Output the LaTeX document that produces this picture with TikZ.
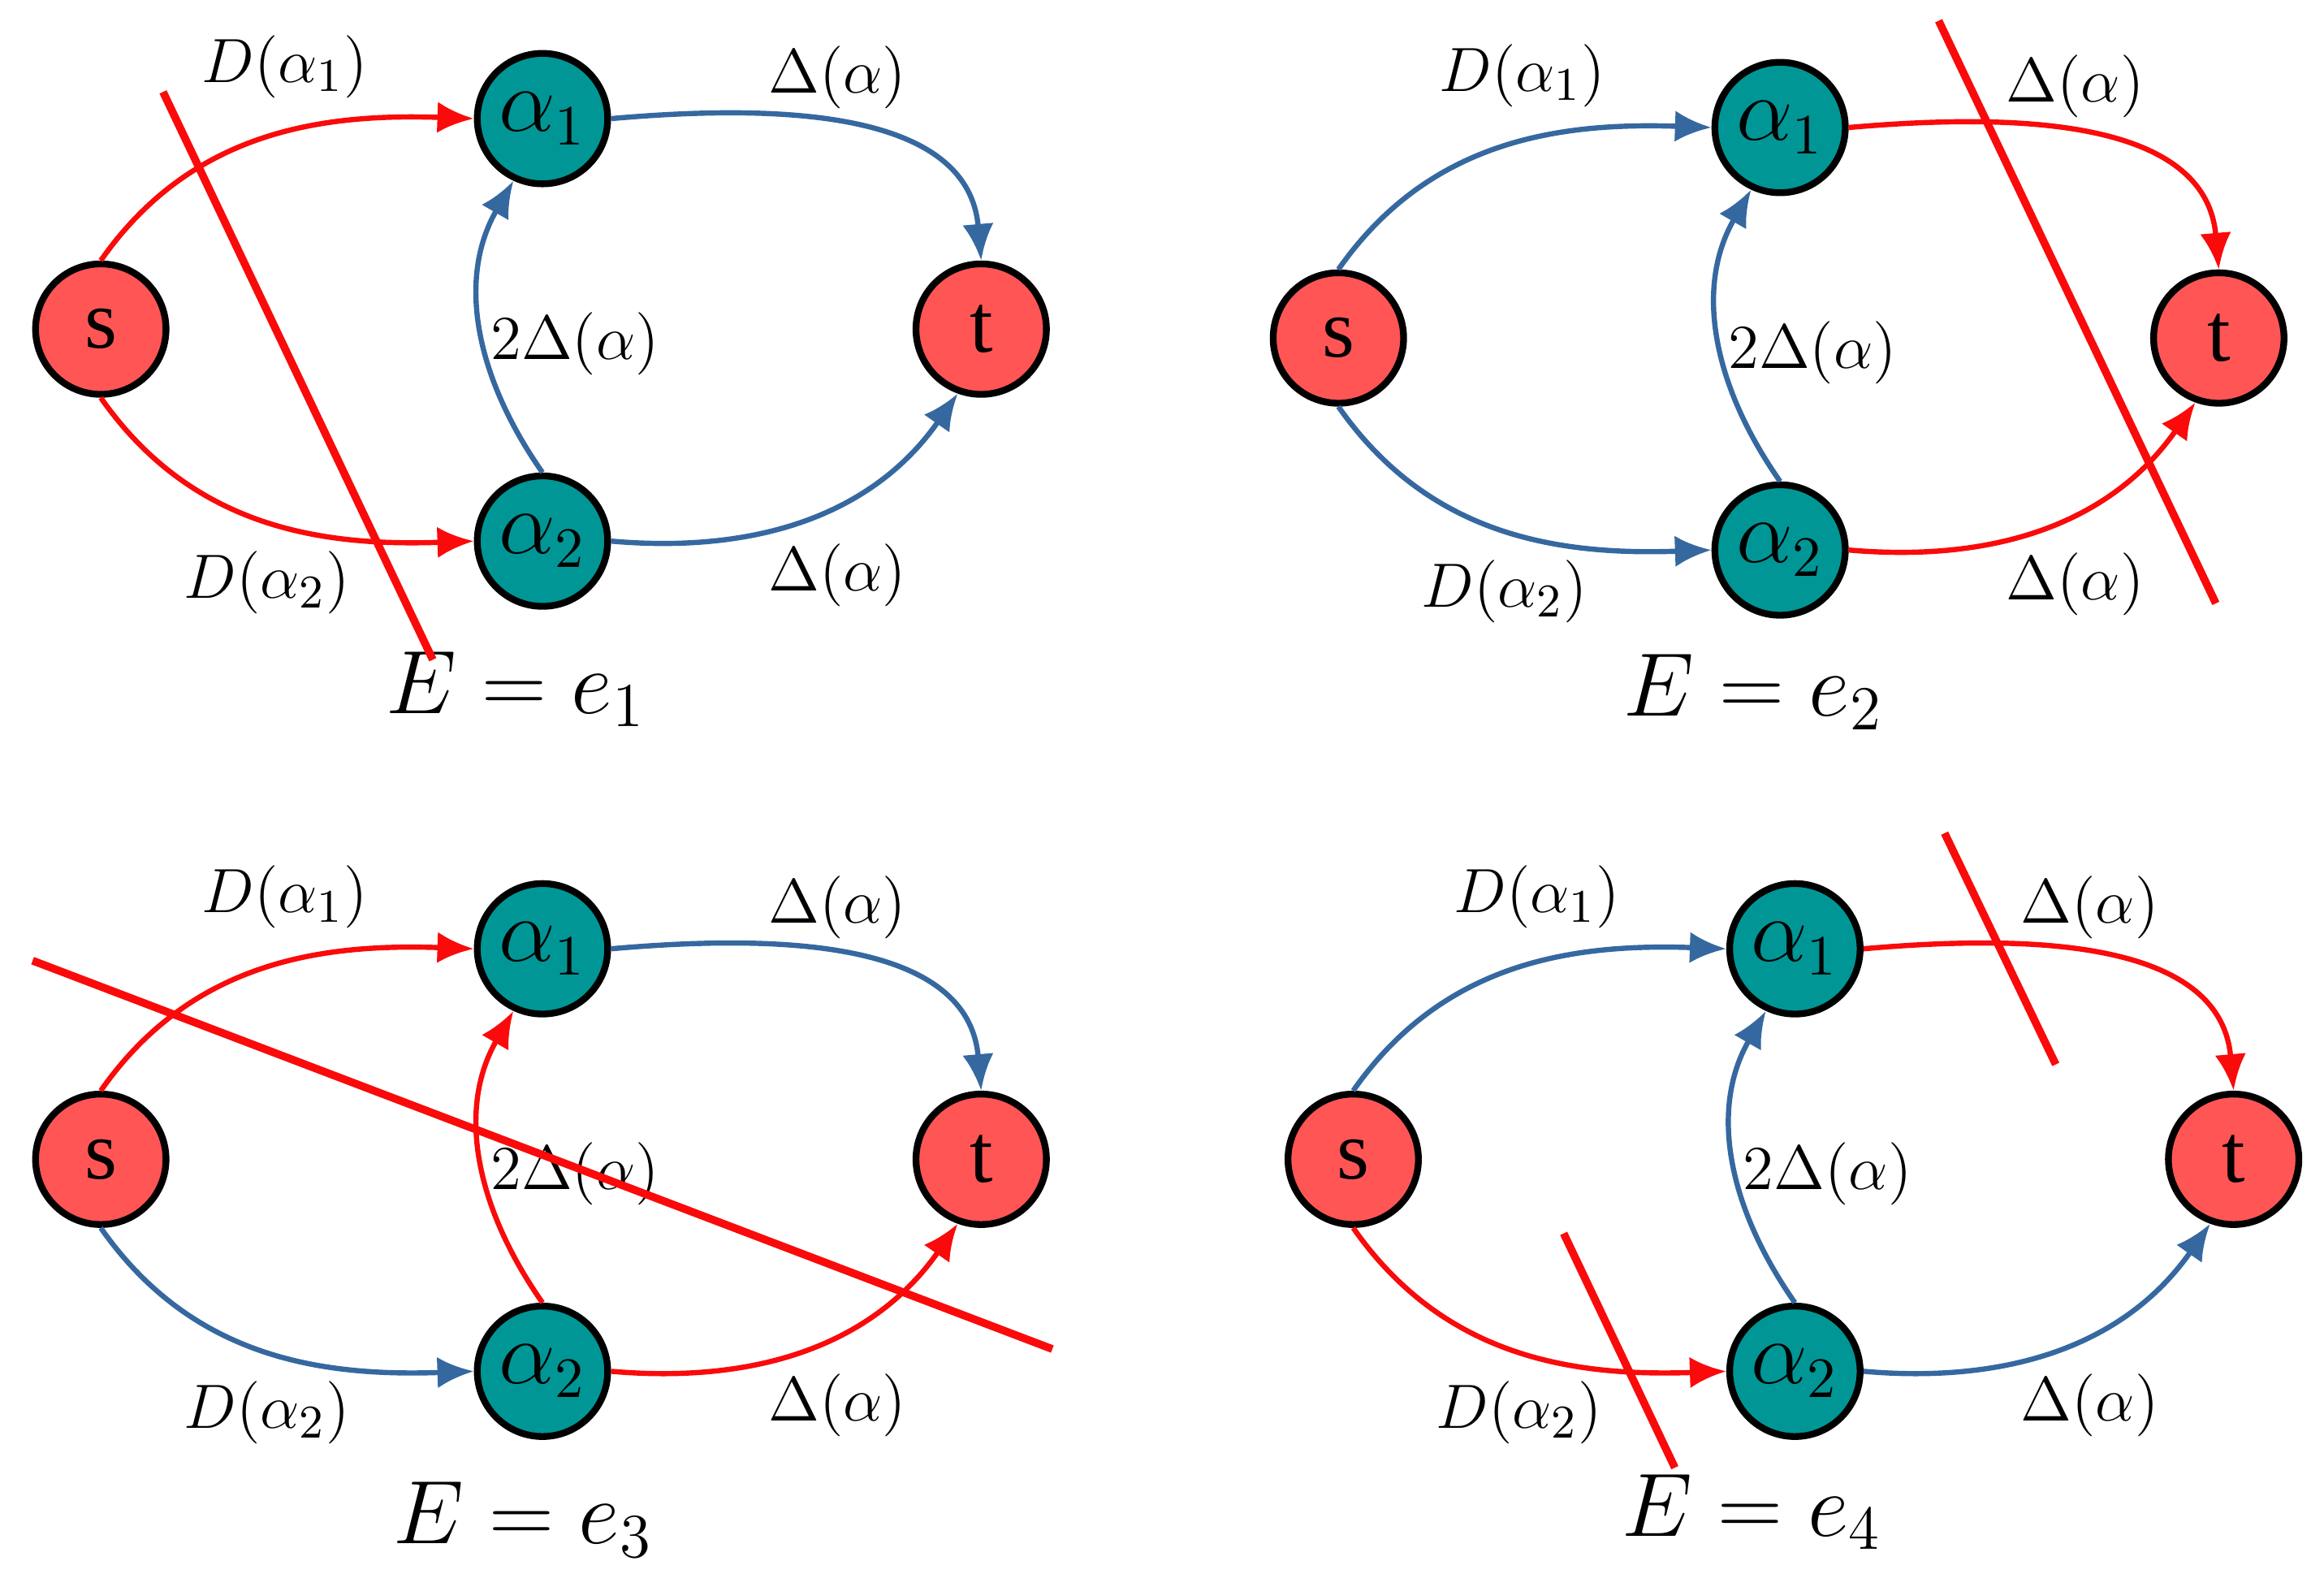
\documentclass[tikz,border=0pt]{standalone}
\usepackage{fontspec}
\setmainfont{Liberation Serif}
\usetikzlibrary{arrows.meta}
\definecolor{nred}{RGB}{255,85,85}
\definecolor{teal2}{RGB}{0,150,150}
\definecolor{eblue}{RGB}{54,104,160}
\definecolor{ered}{RGB}{250,10,10}
\tikzset{
 snode/.style={circle,draw=black,line width=1.3pt,fill=nred,minimum size=0.88cm,inner sep=0pt,font=\fontsize{16}{18}\selectfont},
 anode/.style={circle,draw=black,line width=1.3pt,fill=teal2,minimum size=0.88cm,inner sep=0pt,font=\fontsize{16}{18}\selectfont},
 edge/.style={line width=1pt,-{Latex[length=7pt,width=6pt]}},
 lab/.style={font=\fontsize{13}{15}\selectfont},
 elab/.style={font=\fontsize{17}{19}\selectfont},
 cut/.style={ered,line width=1.5pt}
}
\newcommand{\mypanel}[8]{%
\begin{scope}[shift={(#1,#2)}]
 \node[snode] (#8s) at (0.68,-2.22) {s};
 \node[anode] (#8a) at (3.66,-0.80) {$\alpha_1$};
 \node[anode] (#8b) at (3.66,-3.65) {$\alpha_2$};
 \node[snode] (#8t) at (6.62,-2.22) {t};
 \draw[edge,#3] (#8s.north) to[out=55,in=178] (#8a.west);
 \draw[edge,#4] (#8s.south) to[out=-55,in=-178] (#8b.west);
 \draw[edge,#5] (#8a.east) to[out=5,in=95] (#8t.north);
 \draw[edge,#6] (#8b.east) to[out=-5,in=-125] (#8t.-110);
 \draw[edge,#7] (#8b.north) to[out=125,in=-120] (#8a.-115);
 \node[lab] (#8l1) at (1.92,-0.45) {$D(\alpha_1)$};
 \node[lab] (#8l2) at (1.80,-3.93) {$D(\alpha_2)$};
 \node[lab] (#8l3) at (5.65,-0.52) {$\Delta(\alpha)$};
 \node[lab] (#8l4) at (5.65,-3.88) {$\Delta(\alpha)$};
 \node[lab] (#8l5) at (3.88,-2.32) {$2\Delta(\alpha)$};
\end{scope}}
\begin{document}
\begin{tikzpicture}
\useasboundingbox (0,0) rectangle (15.68,-10.70);
\mypanel{0}{0}{ered}{ered}{eblue}{eblue}{eblue}{p}
\node[elab] (e1) at (3.48,-4.65) {$E=e_1$};
\coordinate (c1a) at (1.10,-0.62); \coordinate (c1b) at (2.92,-4.45);
\draw[cut] (c1a) -- (c1b);
\mypanel{8.35}{-0.06}{eblue}{eblue}{ered}{ered}{eblue}{q}
\node[elab] (e2) at (11.83,-4.67) {$E=e_2$};
\coordinate (c2a) at (13.08,-0.14); \coordinate (c2b) at (14.95,-4.07);
\draw[cut] (c2a) -- (c2b);
\mypanel{0}{-5.60}{ered}{eblue}{eblue}{ered}{ered}{r}
\node[elab] (e3) at (3.53,-10.25) {$E=e_3$};
\coordinate (c3a) at (0.22,-6.48); \coordinate (c3b) at (7.10,-9.10);
\draw[cut] (c3a) -- (c3b);
\mypanel{8.45}{-5.60}{eblue}{ered}{ered}{eblue}{eblue}{u}
\node[elab] (e4) at (11.82,-10.20) {$E=e_4$};
\coordinate (c4a) at (13.12,-5.62); \coordinate (c4b) at (13.87,-7.18);
\draw[cut] (c4a) -- (c4b);
\coordinate (c5a) at (10.55,-8.32); \coordinate (c5b) at (11.30,-9.90);
\draw[cut] (c5a) -- (c5b);
\end{tikzpicture}
\end{document}
